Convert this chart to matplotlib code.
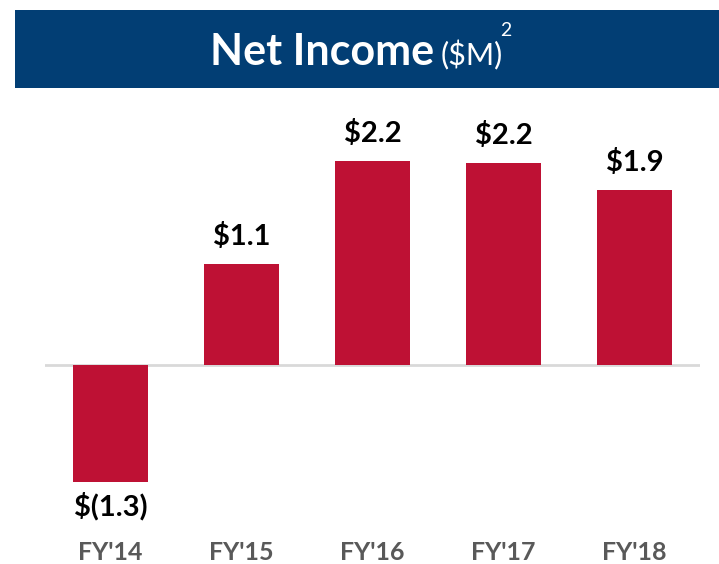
import matplotlib
matplotlib.use("Agg")
import matplotlib.pyplot as plt
from matplotlib.patches import Rectangle

# Data
years = ["FY'14", "FY'15", "FY'16", "FY'17", "FY'18"]
net_income = [-1.27, 1.09, 2.20, 2.18, 1.89]
value_labels = ["$(1.3)", "$1.1", "$2.2", "$2.2", "$1.9"]

bar_color = '#BE1134'
banner_color = '#023E74'
font = 'Lato'

W, H = 719, 564
fig = plt.figure(figsize=(W / 100, H / 100), dpi=100)

# Title banner
fig.patches.append(Rectangle((15 / W, 1 - 88 / H), (719 - 15) / W, 78 / H,
                             transform=fig.transFigure, facecolor=banner_color,
                             edgecolor='none', zorder=0))

# Chart axes: baseline at y=365px, ~92.5 px per $M
ax_top, ax_bot = 100, 500
ax = fig.add_axes([45 / W, 1 - ax_bot / H, (700 - 45) / W, (ax_bot - ax_top) / H])
ppu = 92.5
ax.set_ylim(-(ax_bot - 365) / ppu, (365 - ax_top) / ppu)
ax.set_xlim(-0.5, 4.5)
ax.axis('off')

x = list(range(len(years)))
ax.bar(x, net_income, width=75 / 131, color=bar_color, zorder=2)
ax.axhline(0, color='#D9D9D9', linewidth=2, zorder=1)

for xi, v, lab in zip(x, net_income, value_labels):
    off = 14 if v >= 0 else -24
    ax.annotate(lab, (xi, v), xytext=(0, off), textcoords='offset points',
                ha='center', va='baseline', fontsize=21, fontweight='bold',
                family=font, color='black', annotation_clip=False)

for xi, yr in zip(x, years):
    ax.annotate(yr, (xi, 0), xycoords=('data', 'figure fraction'),
                xytext=(xi, 1 - 552 / H), textcoords=('data', 'figure fraction'),
                ha='center', va='center', fontsize=18, fontweight='bold',
                family=font, color='#595959', annotation_clip=False)

# Title built from pieces: "Net Income" + "($M)" + superscript 2
fig.canvas.draw()
renderer = fig.canvas.get_renderer()
base = 1 - 65 / H
t1 = fig.text(0, base, 'Net Income', fontsize=31, fontweight='bold', family=font,
              color='white', va='baseline', ha='left')
t2 = fig.text(0, base, '($M)', fontsize=22, family=font, color='white',
              va='baseline', ha='left')
t3 = fig.text(0, 1 - 36 / H, '2', fontsize=14, family=font, color='white',
              va='baseline', ha='left')
w1 = t1.get_window_extent(renderer).width
w2 = t2.get_window_extent(renderer).width
start = 210
t1.set_x(start / W)
t2.set_x((start + w1 + 7) / W)
t3.set_x((start + w1 + 7 + w2 - 3) / W)

fig.savefig('out.png', dpi=100)
